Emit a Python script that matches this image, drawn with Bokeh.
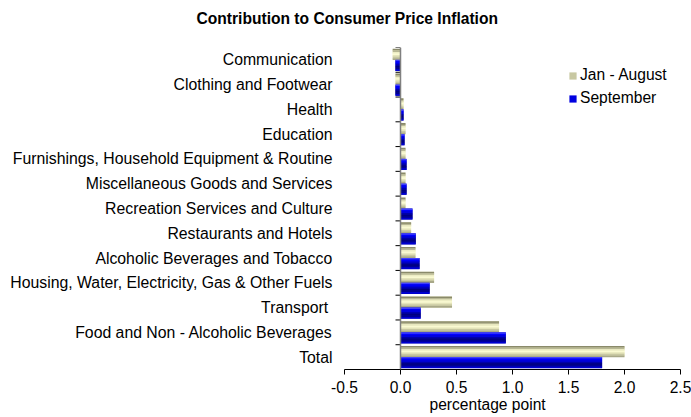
from bokeh.plotting import figure
from bokeh.models import (FactorRange, FixedTicker, PrintfTickFormatter, Span, Title,
                          Legend, LegendItem, ColumnDataSource)
from bokeh.transform import dodge
from bokeh.embed import file_html
from bokeh.resources import INLINE

categories = ["Communication", "Clothing and Footwear", "Health", "Education",
              "Furnishings, Household Equipment & Routine", "Miscellaneous Goods and Services",
              "Recreation Services and Culture", "Restaurants and Hotels",
              "Alcoholic Beverages and Tobacco", "Housing, Water, Electricity, Gas & Other Fuels",
              "Transport ", "Food and Non - Alcoholic Beverages", "Total"]
jan_aug = [-0.07, -0.045, 0.027, 0.045, 0.045, 0.045, 0.045, 0.095, 0.134, 0.30, 0.46, 0.88, 2.0]
september = [-0.045, -0.045, 0.027, 0.036, 0.054, 0.054, 0.107, 0.136, 0.17, 0.26, 0.18, 0.94, 1.80]
series_names = ["Jan - August", "September"]
x_ticks = [-0.5, 0.0, 0.5, 1.0, 1.5, 2.0, 2.5]
title_text = "Contribution to Consumer Price Inflation"
x_title = "percentage point"

FONT = "Liberation Sans"
FS = "15.6px"
W, H = 691, 417
ML, MR, MT, MB = 344, 11, 47, 48
frame_w = W - ML - MR
frame_h = H - MT - MB

src = ColumnDataSource(dict(cat=categories, jan=jan_aug, sep=september))

p = figure(width=W, height=H, output_backend="svg", toolbar_location=None,
           x_range=(x_ticks[0], x_ticks[-1]),
           y_range=FactorRange(factors=list(reversed(categories)), range_padding=0),
           min_border_left=ML, min_border_right=MR, min_border_top=MT, min_border_bottom=MB)
p.outline_line_color = None
p.grid.visible = False
p.background_fill_color = "white"

# title (with an empty spacer title between it and the plot frame)
main_title = Title(text=title_text, align="left", offset=196 - ML, vertical_align="top",
                   standoff=0, text_font=FONT, text_font_size=FS, text_font_style="bold",
                   text_color="black")
spacer = Title(text=" ", align="left", standoff=0, text_font=FONT, text_font_size="16px")
p.title = None
p.above = [spacer, main_title]

# y axis (category labels)
p.yaxis.axis_line_color = None
p.yaxis.major_tick_line_color = None
p.yaxis.minor_tick_line_color = None
p.yaxis.major_label_standoff = 6
p.yaxis.major_label_text_font = FONT
p.yaxis.major_label_text_font_size = "15.8px"
p.yaxis.major_label_text_color = "black"

# x axis
p.xaxis.ticker = FixedTicker(ticks=x_ticks)
p.xaxis.formatter = PrintfTickFormatter(format="%.1f")
p.xaxis.major_tick_in = 0
p.xaxis.major_tick_out = 5
p.xaxis.minor_tick_line_color = None
p.xaxis.axis_line_color = "black"
p.xaxis.major_tick_line_color = "black"
p.xaxis.major_label_standoff = 6
p.xaxis.major_label_text_font = FONT
p.xaxis.major_label_text_font_size = FS
p.xaxis.major_label_text_color = "black"

p.add_layout(Title(text=x_title, align="left", offset=429 - ML, standoff=0,
                   vertical_align="top", text_font=FONT, text_font_size=FS,
                   text_font_style="normal", text_color="black"), "below")

# zero line
p.add_layout(Span(location=0, dimension="height", line_color="#808080", line_width=1.5))

# category boundary ticks on zero line
px_per_unit = frame_w / (x_ticks[-1] - x_ticks[0])
tick_len = 5 / px_per_unit
p.segment(x0=-tick_len, x1=0, y0=dodge("cat", 0.5, range=p.y_range),
          y1=dodge("cat", 0.5, range=p.y_range), source=src, line_color="black", line_width=1)
p.segment(x0=-tick_len, x1=0, y0=dodge("cat", -0.5, range=p.y_range),
          y1=dodge("cat", -0.5, range=p.y_range),
          source=ColumnDataSource(dict(cat=[categories[-1]])), line_color="black", line_width=1)

# gradient-like bars made of stripes
bar_h = 0.444
jan_colors = ["#8A8A6A", "#B8B894", "#EDEDC4", "#FAFAD2", "#E4E4BA", "#C8C8A2", "#A8A888"]
sep_colors = ["#4040FF", "#0000FF", "#0000E0", "#0000A8", "#000080", "#000090", "#0000D0"]

legend_renderers = []
for field, base, colors, mid in (("jan", bar_h / 2, jan_colors, 5), ("sep", -bar_h / 2, sep_colors, 2)):
    n = len(colors)
    sh = bar_h / n
    p.hbar(y=dodge("cat", base, range=p.y_range), left=0, right=field, height=bar_h,
           source=src, fill_color=colors[n // 2], line_color=None)
    mid_r = None
    for i, c in enumerate(colors):
        off = base + bar_h / 2 - (i + 0.5) * sh
        r = p.hbar(y=dodge("cat", off, range=p.y_range), left=0, right=field, height=sh * 1.15,
                   source=src, fill_color=c, line_color=None)
        if i == mid:
            mid_r = r
    legend_renderers.append(mid_r)

legend = Legend(items=[LegendItem(label=series_names[0], renderers=[legend_renderers[0]]),
                       LegendItem(label=series_names[1], renderers=[legend_renderers[1]])],
                location=(224, frame_h - 60), orientation="vertical",
                glyph_width=9, glyph_height=9, label_standoff=3, spacing=5, label_height=18,
                padding=0, margin=0, border_line_color=None, background_fill_alpha=0,
                label_text_font=FONT, label_text_font_size=FS, label_text_color="black")
p.add_layout(legend)

open("out.html", "w").write(file_html(p, INLINE))
